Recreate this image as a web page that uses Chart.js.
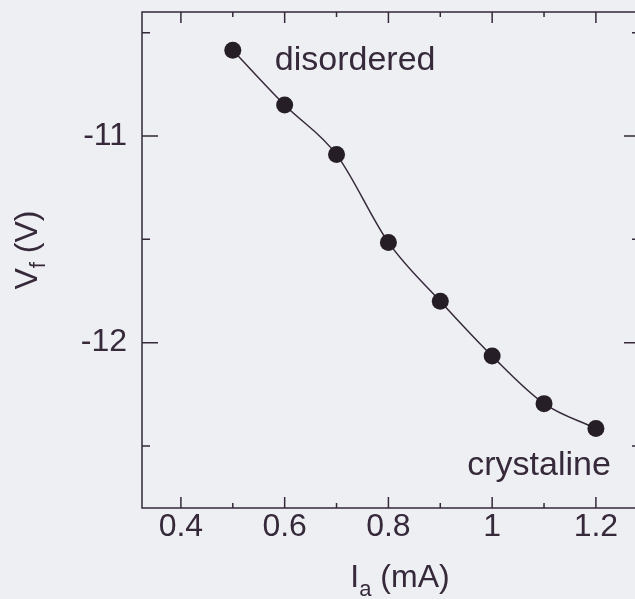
<!DOCTYPE html>
<html>
<head>
<meta charset="utf-8">
<script src="https://cdn.jsdelivr.net/npm/chart.js@4"></script>
<style>
  html, body { margin: 0; padding: 0; background: #eeeff3; overflow: hidden; }
  #wrap { width: 650px; height: 599px; }
</style>
</head>
<body>
<div id="wrap"><canvas id="vfChart" width="650" height="599"></canvas></div>
<script>
// anode current (mA) and floating potential (V)
const currents = [0.5, 0.6, 0.7, 0.8, 0.9, 1.0, 1.1, 1.2];
const potentials = [-10.585, -10.85, -11.09, -11.515, -11.80, -12.065, -12.295, -12.415];

const xMajorTicks = [0.4, 0.6, 0.8, 1, 1.2];
const xMinorTicks = [0.5, 0.7, 0.9, 1.1];
const xTickLabels = ['0.4', '0.6', '0.8', '1', '1.2'];
const yMajorTicks = [-11, -12];
const yMinorTicks = [-10.5, -11.5, -12.5];
const yTickLabels = ['-11', '-12'];

const phaseLabels = ['disordered', 'crystaline'];

const ink = '#35293a';
const fontFamily = '"Liberation Sans", Arial, Helvetica, sans-serif';

// inward tick marks + frame
const framePlugin = {
    id: 'frame',
    afterDraw(chart) {
        const ctx = chart.ctx;
        const a = chart.chartArea;
        const xs = chart.scales.x;
        const ys = chart.scales.y;
        ctx.save();
        ctx.strokeStyle = ink;
        ctx.lineWidth = 1.5;
        ctx.strokeRect(a.left, a.top, a.right - a.left, a.bottom - a.top);

        const xTick = (v, len) => {
            const p = xs.getPixelForValue(v);
            ctx.beginPath();
            ctx.moveTo(p, a.bottom); ctx.lineTo(p, a.bottom - len);
            ctx.moveTo(p, a.top); ctx.lineTo(p, a.top + len);
            ctx.stroke();
        };
        const yTick = (v, len) => {
            const p = ys.getPixelForValue(v);
            ctx.beginPath();
            ctx.moveTo(a.left, p); ctx.lineTo(a.left + len, p);
            ctx.moveTo(a.right, p); ctx.lineTo(a.right - len, p);
            ctx.stroke();
        };
        xMajorTicks.forEach(v => xTick(v, 11));
        xMinorTicks.forEach(v => xTick(v, 5));
        yMajorTicks.forEach(v => yTick(v, 16));
        yMinorTicks.forEach(v => yTick(v, 8));

        // phase annotations
        ctx.fillStyle = ink;
        ctx.font = '34px ' + fontFamily;
        ctx.textBaseline = 'alphabetic';
        ctx.textAlign = 'left';
        ctx.fillText(phaseLabels[0], xs.getPixelForValue(0.581), ys.getPixelForValue(-10.681));
        ctx.fillText(phaseLabels[1], xs.getPixelForValue(0.952), ys.getPixelForValue(-12.638));

        // x axis title with subscript
        const mainX = 'I';
        const restX = ' (mA)';
        ctx.font = '22px ' + fontFamily;
        const subW = ctx.measureText('a').width;
        ctx.font = '32px ' + fontFamily;
        const totalX = ctx.measureText(mainX).width + subW + ctx.measureText(restX).width;
        let tx = 400 - totalX / 2;
        const by = 587;
        ctx.fillText(mainX, tx, by);
        tx += ctx.measureText(mainX).width;
        ctx.font = '22px ' + fontFamily;
        ctx.fillText('a', tx, by + 9);
        tx += subW;
        ctx.font = '32px ' + fontFamily;
        ctx.fillText(restX, tx, by);

        // y axis title with subscript, rotated
        ctx.translate(37, 250);
        ctx.rotate(-Math.PI / 2);
        ctx.font = '22px ' + fontFamily;
        const subF = ctx.measureText('f').width;
        ctx.font = '32px ' + fontFamily;
        const totalY = ctx.measureText('V').width + subF + ctx.measureText(' (V)').width;
        let ty = -totalY / 2;
        ctx.fillText('V', ty, 0);
        ty += ctx.measureText('V').width;
        ctx.font = '22px ' + fontFamily;
        ctx.fillText('f', ty, 8);
        ty += subF;
        ctx.font = '32px ' + fontFamily;
        ctx.fillText(' (V)', ty, 0);
        ctx.restore();
    }
};

new Chart(document.getElementById('vfChart'), {
    type: 'line',
    data: {
        datasets: [{
            data: currents.map((c, i) => ({ x: c, y: potentials[i] })),
            borderColor: ink,
            borderWidth: 1.5,
            backgroundColor: '#261e26',
            pointBackgroundColor: '#261e26',
            pointBorderWidth: 0,
            pointRadius: 8.5,
            cubicInterpolationMode: 'monotone',
            fill: false
        }]
    },
    options: {
        responsive: false,
        animation: false,
        layout: { padding: { top: 12, right: 10, left: 0, bottom: 0 } },
        plugins: { legend: { display: false }, tooltip: { enabled: false } },
        scales: {
            x: {
                type: 'linear',
                min: 0.325,
                max: 1.285,
                grid: { display: false, drawTicks: false },
                border: { display: false },
                afterBuildTicks: (scale) => { scale.ticks = xMajorTicks.map(v => ({ value: v })); },
                afterFit: (scale) => {
                    scale.height = 91;
                    scale.paddingLeft = 0;
                    scale.paddingRight = 0;
                },
                ticks: {
                    autoSkip: false,
                    maxRotation: 0,
                    padding: 0,
                    color: ink,
                    font: { family: fontFamily, size: 32 },
                    callback: (v) => xTickLabels[xMajorTicks.indexOf(v)]
                }
            },
            y: {
                type: 'linear',
                min: -12.8,
                max: -10.4,
                grid: { display: false, drawTicks: false },
                border: { display: false },
                afterBuildTicks: (scale) => { scale.ticks = yMajorTicks.map(v => ({ value: v })); },
                afterFit: (scale) => {
                    scale.width = 142;
                    scale.paddingTop = 0;
                    scale.paddingBottom = 0;
                },
                ticks: {
                    autoSkip: false,
                    padding: 15,
                    color: ink,
                    font: { family: fontFamily, size: 32 },
                    callback: (v) => yTickLabels[yMajorTicks.indexOf(v)]
                }
            }
        }
    },
    plugins: [framePlugin]
});
</script>
</body>
</html>
